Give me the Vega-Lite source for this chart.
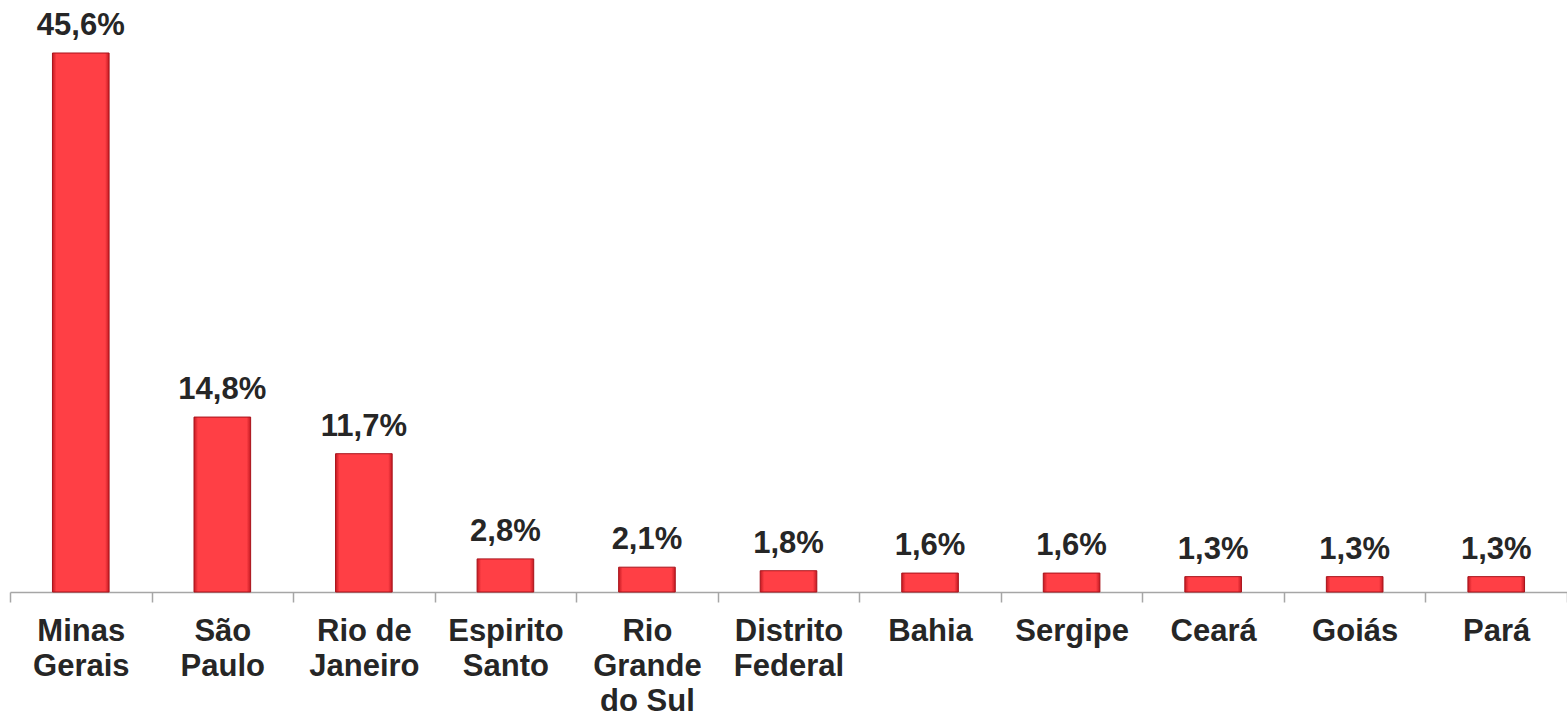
{
  "$schema": "https://vega.github.io/schema/vega-lite/v6.json",
  "width": 1557,
  "height": 591,
  "autosize": "none",
  "padding": {"left": 10, "top": 1, "right": 0, "bottom": 127},
  "config": {
    "view": {"stroke": null},
    "locale": {"number": {"decimal": ",", "thousands": ".", "grouping": [3], "currency": ["R$", ""]}},
    "font": "Liberation Sans"
  },
  "data": {
    "values": [
      {"estado": "Minas Gerais", "participacao": 0.456},
      {"estado": "São Paulo", "participacao": 0.148},
      {"estado": "Rio de Janeiro", "participacao": 0.117},
      {"estado": "Espirito Santo", "participacao": 0.028},
      {"estado": "Rio Grande do Sul", "participacao": 0.021},
      {"estado": "Distrito Federal", "participacao": 0.018},
      {"estado": "Bahia", "participacao": 0.016},
      {"estado": "Sergipe", "participacao": 0.016},
      {"estado": "Ceará", "participacao": 0.013},
      {"estado": "Goiás", "participacao": 0.013},
      {"estado": "Pará", "participacao": 0.013}
    ]
  },
  "encoding": {
    "x": {
      "field": "estado",
      "type": "nominal",
      "sort": null,
      "scale": {"paddingInner": 0, "paddingOuter": 0},
      "axis": {
        "title": null,
        "labelAngle": 0,
        "tickBand": "extent",
        "tickSize": 10,
        "tickColor": "#A6A6A6",
        "domainColor": "#A6A6A6",
        "domainWidth": 1.5,
        "tickWidth": 1.5,
        "labelFont": "Liberation Sans",
        "labelFontWeight": "bold",
        "labelFontSize": 31,
        "labelColor": "#262626",
        "labelLineHeight": 35,
        "labelBaseline": "alphabetic",
        "labelPadding": 38,
        "labelOverlap": false,
        "labelBound": false,
        "labelExpr": "!isValid(datum.value) ? '' : datum.value == 'Rio Grande do Sul' ? ['Rio', 'Grande', 'do Sul'] : datum.value == 'Rio de Janeiro' ? ['Rio de', 'Janeiro'] : split(datum.value, ' ')"
      }
    },
    "y": {
      "field": "participacao",
      "type": "quantitative",
      "scale": {"domain": [0, 0.5], "nice": false},
      "axis": null
    }
  },
  "layer": [
    {
      "mark": {
        "type": "bar",
        "width": {"band": 0.4},
        "stroke": "#A8121A",
        "strokeWidth": 1,
        "color": {
          "gradient": "linear",
          "x1": 0, "x2": 1, "y1": 0, "y2": 0,
          "stops": [
            {"offset": 0, "color": "#C41A22"},
            {"offset": 0.07, "color": "#FF3F45"},
            {"offset": 0.93, "color": "#FF3F45"},
            {"offset": 1, "color": "#C41A22"}
          ]
        }
      }
    },
    {
      "mark": {
        "type": "text",
        "baseline": "alphabetic",
        "dy": -18,
        "font": "Liberation Sans",
        "fontWeight": "bold",
        "fontSize": 31,
        "color": "#262626"
      },
      "encoding": {
        "text": {"field": "participacao", "type": "quantitative", "format": ".1%"}
      }
    }
  ]
}
